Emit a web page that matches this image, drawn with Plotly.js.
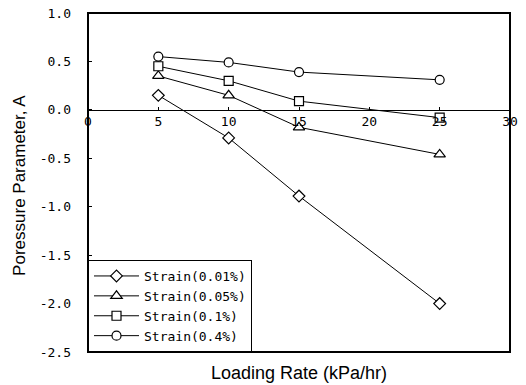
<!DOCTYPE html>
<html><head><meta charset="utf-8">
<script src="https://cdn.plot.ly/plotly-3.0.1.min.js"></script>
<style>body{margin:0;background:#fff}#c{width:526px;height:385px}</style>
</head><body><div id="c"></div>
<script>
const loadingRate = [5, 10, 15, 25];
const strain001 = [0.15, -0.29, -0.89, -2.0];
const strain005 = [0.35, 0.15, -0.18, -0.46];
const strain01 = [0.45, 0.30, 0.09, -0.08];
const strain04 = [0.55, 0.49, 0.39, 0.31];
const seriesNames = ["Strain(0.01%)", "Strain(0.05%)", "Strain(0.1%)", "Strain(0.4%)"];
const xTicks = [0, 5, 10, 15, 20, 25, 30];
const yTicks = [-2.5, -2.0, -1.5, -1.0, -0.5, 0.0, 0.5, 1.0];

const symbols = ["diamond", "triangle-up", "square", "circle"];
const sizes = [9, 10, 9, 9];
const data = [strain001, strain005, strain01, strain04].map((ys, i) => ({
  x: loadingRate, y: ys, name: seriesNames[i], type: "scatter", mode: "lines+markers",
  line: {color: "#000", width: 1},
  marker: {symbol: symbols[i], size: sizes[i], color: "#fff", line: {color: "#000", width: 1.2}}
}));

const yMin = -2.5, yMax = 1.0;
const layout = {
  width: 526, height: 385,
  margin: {l: 88, r: 16, t: 13, b: 33},
  paper_bgcolor: "#fff", plot_bgcolor: "#fff",
  font: {family: "Liberation Sans, Arial, sans-serif", color: "#000", size: 12},
  showlegend: true,
  legend: {x: 0, y: 0, xanchor: "left", yanchor: "bottom",
    bordercolor: "#000", borderwidth: 1, bgcolor: "#fff",
    font: {family: "DejaVu Sans Mono, monospace", size: 13},
    tracegroupgap: 0, itemwidth: 45},
  xaxis: {range: [0, 30], tickvals: xTicks, ticktext: xTicks.map(String),
    anchor: "free", position: (0 - yMin) / (yMax - yMin),
    showline: true, linecolor: "#000", linewidth: 1,
    ticks: "inside", ticklen: 3, tickcolor: "#000",
    showgrid: false, zeroline: false,
    tickfont: {family: "DejaVu Sans Mono, monospace", size: 13}},
  yaxis: {range: [yMin, yMax], tickvals: yTicks, ticktext: yTicks.map(v => v.toFixed(1)),
    showgrid: false, zeroline: false, showline: false,
    ticks: "inside", ticklen: 4, tickcolor: "#000",
    ticklabelstandoff: 16,
    tickfont: {family: "DejaVu Sans Mono, monospace", size: 13}},
  shapes: [{type: "rect", xref: "paper", yref: "paper", x0: 0, x1: 1, y0: 0, y1: 1,
    line: {color: "#000", width: 2}}],
  annotations: [
    {text: "Loading Rate (kPa/hr)", xref: "paper", yref: "paper",
      x: 0.5, y: -0.062, xanchor: "center", yanchor: "middle", showarrow: false,
      font: {size: 18}},
    {text: "Poressure Parameter, A", xref: "paper", yref: "paper",
      x: -68 / 422, y: 0.49, xanchor: "center", yanchor: "middle", textangle: -90,
      showarrow: false, font: {size: 17}}
  ]
};
Plotly.newPlot("c", data, layout, {displayModeBar: false, staticPlot: true});
</script></body></html>
